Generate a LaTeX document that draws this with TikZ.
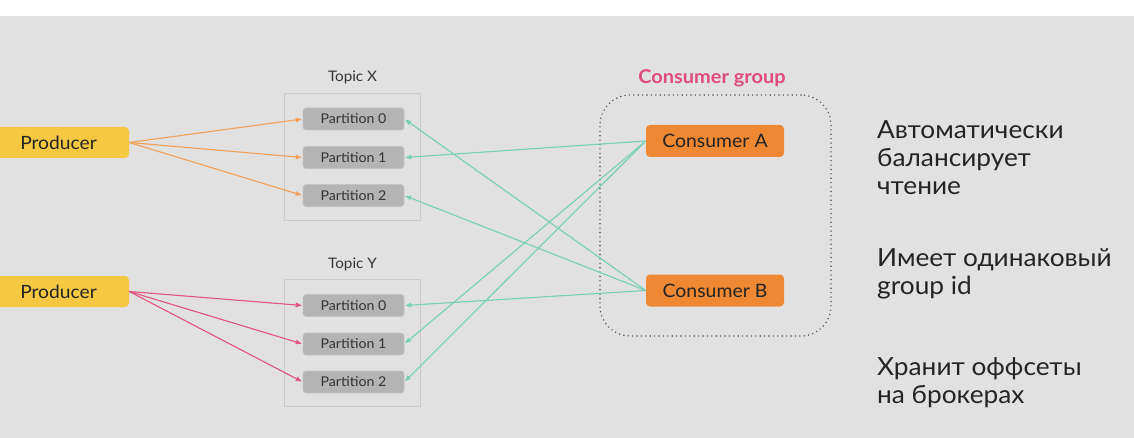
\documentclass[tikz,border=0pt]{standalone}
\usepackage{fontspec}
\setmainfont{Lato}[FakeStretch=1.05]
\usetikzlibrary{arrows.meta}
\definecolor{bgc}{HTML}{E1E1E1}
\definecolor{prodc}{HTML}{F5C842}
\definecolor{consc}{HTML}{EF8833}
\definecolor{oarrc}{HTML}{F2A05A}
\definecolor{parrc}{HTML}{E2567F}
\definecolor{tarrc}{HTML}{79D0B4}
\definecolor{partc}{HTML}{B4B4B4}
\definecolor{parttxt}{HTML}{333333}
\definecolor{topicc}{HTML}{CBCBCB}
\definecolor{grpc}{HTML}{E04A7E}
\definecolor{dotc}{HTML}{555555}
\definecolor{txtc}{HTML}{242424}
\tikzset{
  prodbox/.style={fill=prodc, rounded corners=4pt, minimum width=141, minimum height=31, inner sep=0, text=txtc, font=\fontsize{18.3}{20}\selectfont},
  consbox/.style={fill=consc, rounded corners=4pt, minimum width=138, minimum height=32, inner sep=0, text=txtc, font=\fontsize{18.5}{20}\selectfont},
  partbox/.style={fill=partc, draw=partc!80!white, line width=0.6pt, rounded corners=3pt, minimum width=101, minimum height=22, inner sep=0, text=parttxt, font=\fontsize{13.5}{16}\selectfont},
  topicbox/.style={draw=topicc, line width=0.8pt, minimum width=136, minimum height=127, inner sep=0},
  topiclabel/.style={text=parttxt, font=\fontsize{14.5}{16}\selectfont, inner sep=0},
  grouplabel/.style={text=grpc, font=\bfseries\fontsize{19}{21}\selectfont, inner sep=0},
  groupbox/.style={draw=dotc, line width=1.6pt, dash pattern=on 0pt off 4.4pt, line cap=round, rounded corners=30pt, minimum width=231, minimum height=241, inner sep=0},
  sidetext/.style={text=txtc, align=left, font=\fontsize{25}{28}\selectfont, inner sep=0, anchor=west},
  conn/.style={line width=1.1pt, -{Triangle[length=6pt,width=4.5pt]}, shorten >=1pt},
  oarrow/.style={conn, draw=oarrc, fill=oarrc},
  parrow/.style={conn, draw=parrc, fill=parrc},
  tarrow/.style={conn, draw=tarrc, fill=tarrc},
}
\begin{document}
\begin{tikzpicture}[x=1pt,y=-1pt]
\useasboundingbox (0,0) rectangle (1134,438);
\fill[white] (0,0) rectangle (1134,16);
\fill[bgc] (0,16) rectangle (1134,438);

% topic boxes
\node[topicbox] (tx) at (352.5,156.5) {};
\node[topicbox] (ty) at (352.5,342.5) {};
\node[topiclabel] (txl) at (352.5,77) {Topic X};
\node[topiclabel] (tyl) at (352.5,264) {Topic Y};

% partitions
\node[partbox] (x0) at (353.5,119) {Partition 0};
\node[partbox] (x1) at (353.5,157.5) {Partition 1};
\node[partbox] (x2) at (353.5,195.5) {Partition 2};
\node[partbox] (y0) at (353.5,305.5) {Partition 0};
\node[partbox] (y1) at (353.5,344) {Partition 1};
\node[partbox] (y2) at (353.5,382) {Partition 2};

% producers
\node[prodbox] (p1) at (58.5,142.5) {Producer};
\node[prodbox] (p2) at (58.5,291.5) {Producer};

% consumer group
\node[groupbox] (grp) at (715.5,215.5) {};
\node[grouplabel] (grpl) at (712,78) {Consumer group};
\node[consbox] (ca) at (715,141) {Consumer A};
\node[consbox] (cb) at (715,290.5) {Consumer B};

% producer arrows
\draw[oarrow] (p1.east) -- (x0.west);
\draw[oarrow] (p1.east) -- (x1.west);
\draw[oarrow] (p1.east) -- (x2.west);
\draw[parrow] (p2.east) -- (y0.west);
\draw[parrow] (p2.east) -- (y1.west);
\draw[parrow] (p2.east) -- (y2.west);

% consumer arrows
\draw[tarrow] (ca.west) -- (x1.east);
\draw[tarrow] (ca.west) -- (y1.east);
\draw[tarrow] (ca.west) -- (y2.east);
\draw[tarrow] (cb.west) -- (x0.east);
\draw[tarrow] (cb.west) -- (x2.east);
\draw[tarrow] (cb.west) -- (y0.east);

% side notes
\node[sidetext] (n1) at (877,158) {Автоматически\\балансирует\\чтение};
\node[sidetext] (n2) at (877,274) {Имеет одинаковый\\group id};
\node[sidetext] (n3) at (877,383) {Хранит оффсеты\\на брокерах};
\end{tikzpicture}
\end{document}
